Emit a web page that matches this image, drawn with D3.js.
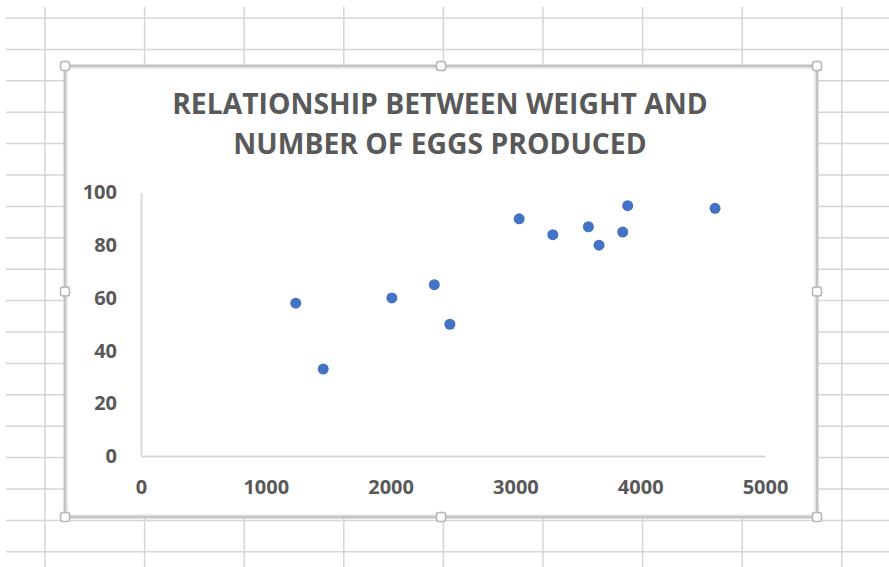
<!DOCTYPE html>
<html>
<head>
<meta charset="utf-8">
<script src="https://cdn.jsdelivr.net/npm/d3@7"></script>
<style>
  body { margin: 0; background: #fff; }
  text { font-family: "Open Sans", sans-serif; font-weight: 700; fill: #595959; }
</style>
</head>
<body>
<svg id="chart"></svg>
<script>
// data: weight vs number of eggs
var weight = [1240, 1460, 2010, 2350, 2475, 3030, 3300, 3585, 3670, 3860, 3900, 4600];
var eggs   = [58,   33,   60,   65,   50,   90,   84,   87,   80,   85,   95,   94];
var xTicks = [0, 1000, 2000, 3000, 4000, 5000];
var yTicks = [0, 20, 40, 60, 80, 100];
var titleLines = ["RELATIONSHIP BETWEEN WEIGHT AND", "NUMBER OF EGGS PRODUCED"];

var width = 889, height = 567;

var svg = d3.select("#chart")
  .attr("width", width)
  .attr("height", height);

svg.append("rect").attr("width", width).attr("height", height).attr("fill", "#fff");

// spreadsheet cells behind the chart
var grid = svg.append("g").attr("stroke", "#d6d6d6").attr("stroke-width", 1.5);
grid.selectAll(".h")
  .data(d3.range(18, height, 31.4))
  .enter().append("line")
    .attr("x1", 6).attr("x2", width)
    .attr("y1", d => d).attr("y2", d => d);
grid.selectAll(".v")
  .data(d3.range(45, width, 99.6))
  .enter().append("line")
    .attr("x1", d => d).attr("x2", d => d)
    .attr("y1", 7).attr("y2", height);

// chart area
var box = {x0: 65, y0: 66, x1: 817, y1: 517};
svg.append("rect")
  .attr("x", box.x0).attr("y", box.y0)
  .attr("width", box.x1 - box.x0).attr("height", box.y1 - box.y0)
  .attr("fill", "#fff")
  .attr("stroke", "#c4c4c4")
  .attr("stroke-width", 3);
svg.append("rect")
  .attr("x", box.x0 + 2.5).attr("y", box.y0 + 2.5)
  .attr("width", box.x1 - box.x0 - 5).attr("height", box.y1 - box.y0 - 5)
  .attr("fill", "none")
  .attr("stroke", "#ececec")
  .attr("stroke-width", 1);

// selection handles
var mx = (box.x0 + box.x1) / 2, my = (box.y0 + box.y1) / 2;
var handles = [[box.x0, box.y0], [mx, box.y0], [box.x1, box.y0],
               [box.x0, my], [box.x1, my],
               [box.x0, box.y1], [mx, box.y1], [box.x1, box.y1]];
svg.selectAll(".handle")
  .data(handles)
  .enter().append("rect")
    .attr("x", d => d[0] - 4.5).attr("y", d => d[1] - 4.5)
    .attr("width", 9).attr("height", 9)
    .attr("rx", 2.5)
    .attr("fill", "#fff")
    .attr("stroke", "#b5b5b5")
    .attr("stroke-width", 1.5);

// title
svg.append("g").selectAll("text")
  .data(titleLines)
  .enter().append("text")
    .attr("x", 440)
    .attr("y", (d, i) => 114 + i * 40)
    .attr("text-anchor", "middle")
    .style("font-size", "28.3px")
    .text(d => d);

// scales
var x = d3.scaleLinear().domain([0, 5000]).range([141, 765]);
var y = d3.scaleLinear().domain([0, 100]).range([456, 192.5]);

var xAxis = svg.append("g")
  .attr("transform", "translate(0," + y(0) + ")")
  .call(d3.axisBottom(x).tickValues(xTicks).tickSize(0).tickPadding(24).tickFormat(d3.format("d")));
var yAxis = svg.append("g")
  .attr("transform", "translate(" + x(0) + ",0)")
  .call(d3.axisLeft(y).tickValues(yTicks).tickSize(0).tickPadding(24));

[xAxis, yAxis].forEach(function (g) {
  g.select(".domain").attr("stroke", "#d9d9d9").attr("stroke-width", 2);
  g.selectAll("text")
    .style("font-family", "'Open Sans', sans-serif")
    .style("font-weight", 700)
    .style("font-size", "20px")
    .attr("fill", "#595959");
});

// points
svg.append("g").selectAll("circle")
  .data(weight)
  .enter().append("circle")
    .attr("cx", d => x(d))
    .attr("cy", (d, i) => y(eggs[i]))
    .attr("r", 5.5)
    .attr("fill", "#4472c4");
</script>
</body>
</html>
